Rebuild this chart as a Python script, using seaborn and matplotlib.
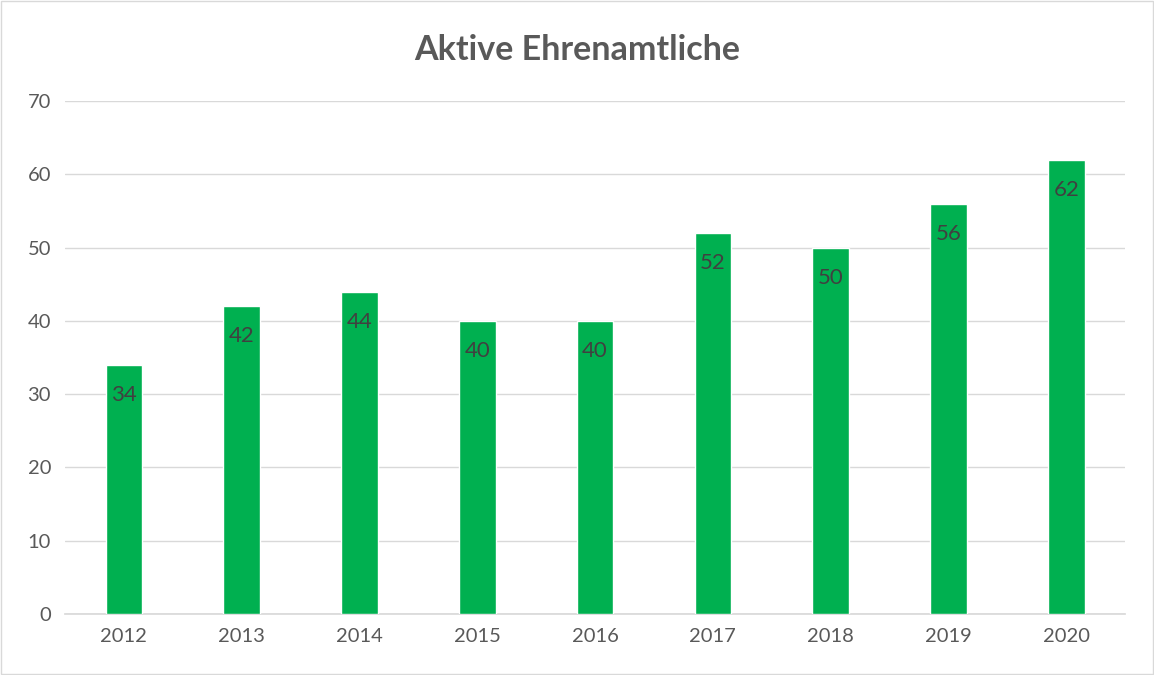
import matplotlib
matplotlib.use("Agg")
import matplotlib.pyplot as plt
import seaborn as sns
import pandas as pd

sns.set_theme(style="white")
plt.rcParams['font.family'] = ['Lato', 'DejaVu Sans']

years = ['2012', '2013', '2014', '2015', '2016', '2017', '2018', '2019', '2020']
volunteers = [34, 42, 44, 40, 40, 52, 50, 56, 62]

df = pd.DataFrame({"Jahr": years, "Aktive": volunteers})

fig = plt.figure(figsize=(11.54, 6.75), dpi=100)
ax = fig.add_axes([0.0563, 0.0904, 0.9187, 0.76])

sns.barplot(data=df, x="Jahr", y="Aktive", color="#00B050", saturation=1,
            width=0.31, ax=ax, zorder=3)

ax.bar_label(ax.containers[0], padding=-29, fontsize=16, color="#404040")

ax.set_ylim(0, 70)
ax.set_xlim(-0.5, len(years) - 0.5)
ax.set_yticks(range(0, 71, 10))
ax.yaxis.grid(True, color="#D9D9D9", linewidth=1, zorder=0)
ax.set_xlabel("")
ax.set_ylabel("")
for s in ["top", "right", "left"]:
    ax.spines[s].set_visible(False)
ax.spines["bottom"].set_color("#D9D9D9")
ax.tick_params(axis="both", colors="#595959", labelsize=14.5, length=0, pad=10)

fig.suptitle("Aktive Ehrenamtliche", fontsize=24.5, fontweight="bold",
             color="#595959", y=0.95)

# thin frame around the whole chart
fig.patches.append(plt.Rectangle((0.001, 0.001), 0.998, 0.998, transform=fig.transFigure,
                                 fill=False, edgecolor="#D9D9D9", linewidth=1))

fig.savefig("out.png", dpi=100)
